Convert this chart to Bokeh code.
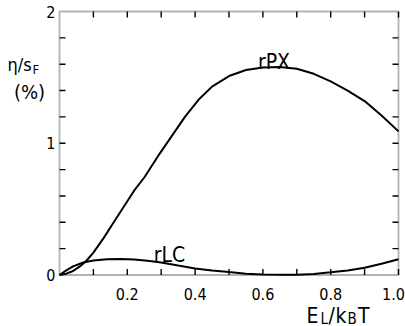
import math
from bokeh.plotting import figure
from bokeh.models import Range1d, Label, BoxAnnotation, ColumnDataSource
from bokeh.embed import file_html
from bokeh.resources import INLINE

# rPX curve
x_px = [0, 0.02, 0.04, 0.06, 0.08, 0.10, 0.13, 0.16, 0.19, 0.22, 0.25, 0.29, 0.33,
        0.37, 0.41, 0.45, 0.50, 0.55, 0.60, 0.65, 0.70, 0.75, 0.80, 0.85, 0.90, 0.95, 1.0]
y_px = [0, 0.01, 0.03, 0.065, 0.11, 0.17, 0.28, 0.40, 0.52, 0.64, 0.74, 0.90, 1.05,
        1.20, 1.33, 1.43, 1.51, 1.556, 1.575, 1.578, 1.565, 1.527, 1.47, 1.40, 1.32, 1.21, 1.09]

# rLC curve
x_lc = [0, 0.02, 0.04, 0.07, 0.10, 0.14, 0.18, 0.22, 0.26, 0.30, 0.35, 0.40, 0.45,
        0.50, 0.55, 0.60, 0.65, 0.70, 0.75, 0.80, 0.85, 0.90, 0.95, 1.0]
y_lc = [0, 0.035, 0.065, 0.095, 0.11, 0.12, 0.122, 0.118, 0.108, 0.095, 0.072, 0.05, 0.035,
        0.022, 0.01, 0.004, 0.001, 0.002, 0.008, 0.02, 0.035, 0.055, 0.085, 0.12]

x_major = [0.2, 0.4, 0.6, 0.8, 1.0]
x_minor = [0.1, 0.3, 0.5, 0.7, 0.9]
x_labels = ["0.2", "0.4", "0.6", "0.8", "1.0"]
y_major = [0, 1, 2]
y_minor = [0.2, 0.4, 0.6, 0.8, 1.2, 1.4, 1.6, 1.8]
y_labels = ["0", "1", "2"]

X0, X1 = 0.0, 1.0
Y0, Y1 = 0.0, 2.0

# pixel geometry of the axes box inside the 405x326 canvas
W, H = 405, 326
L_PX, R_PX, T_PX, B_PX = 59, 398, 11, 274.5
SX = (R_PX - L_PX) / (X1 - X0)
SY = (B_PX - T_PX) / (Y1 - Y0)


def px2x(px):
    return X0 + (px - L_PX) / SX


def py2y(py):
    return Y0 + (B_PX - py) / SY


FONT = "DejaVu Sans Condensed, DejaVu Sans, sans-serif"
FS_TICK = "16px"

p = figure(width=W, height=H,
           x_range=Range1d(px2x(0), px2x(W)), y_range=Range1d(py2y(H), py2y(0)),
           output_backend="svg", toolbar_location=None,
           x_axis_location=None, y_axis_location=None, min_border=0)
p.grid.visible = False
p.outline_line_color = None
p.background_fill_color = "white"
p.border_fill_color = "white"

# axes box
p.add_layout(BoxAnnotation(left=X0, right=X1, bottom=Y0, top=Y1, fill_color=None,
                           line_color="black", line_width=1.8))

# inward ticks on all four sides
xt = x_major + x_minor
yt = y_minor + [1]
TL = 6
TW = 1.4
p.ray(x=xt, y=[Y0] * len(xt), length=TL, length_units="screen", angle=math.pi / 2,
      line_color="black", line_width=TW)
p.ray(x=xt, y=[Y1] * len(xt), length=TL, length_units="screen", angle=-math.pi / 2,
      line_color="black", line_width=TW)
p.ray(x=[X0] * len(yt), y=yt, length=TL, length_units="screen", angle=0,
      line_color="black", line_width=TW)
p.ray(x=[X1] * len(yt), y=yt, length=TL, length_units="screen", angle=math.pi,
      line_color="black", line_width=TW)

# tick labels
xsrc = ColumnDataSource(dict(x=x_major, y=[Y0] * len(x_major), t=x_labels,
                             dx=[0, 0, 0, 0, -5]))
p.text(x="x", y="y", text="t", x_offset="dx", source=xsrc, text_align="center",
       text_baseline="alphabetic", y_offset=19, text_font={"value": FONT},
       text_font_size=FS_TICK, text_color="black")
p.text(x=[X0] * len(y_major), y=y_major, text=y_labels, text_align="right",
       text_baseline="middle", x_offset=-4, text_font={"value": FONT},
       text_font_size=FS_TICK, text_color="black")

# curves
p.line(x_px, y_px, line_width=2, color="black")
p.line(x_lc, y_lc, line_width=2, color="black")


def lab(px, py, t, size, align="left"):
    p.add_layout(Label(x=px2x(px), y=py2y(py), text=t, text_font=FONT, text_font_size=size,
                       text_align=align, text_baseline="alphabetic", text_color="black"))


lab(273.5, 61, "rPX", "21px", "center")
lab(169, 254, "rLC", "21px", "center")

# x axis title E_L/k_B T
lab(306, 315, "E", "21px")
lab(320, 318, "L", "15px")
lab(328, 315, "/", "21px")
lab(335, 315, "k", "21px")
lab(347, 318, "B", "15px")
lab(357.5, 315, "T", "21px")

# y axis title eta/s_F (%)
lab(7, 64, "η/s", "18px")
lab(32, 68.5, "F", "13px")
lab(29, 91, "(%)", "20px", "center")

open("out.html", "w").write(file_html(p, INLINE))
